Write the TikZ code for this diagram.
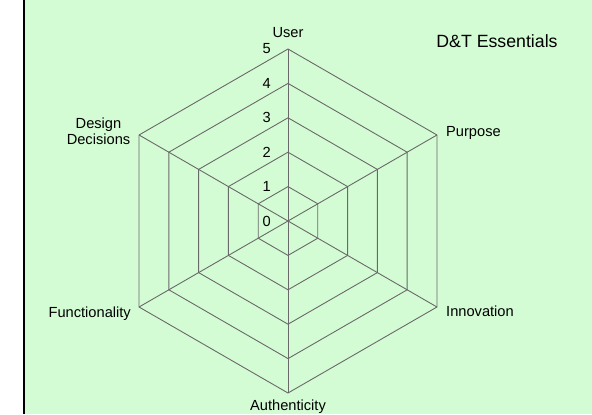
\documentclass[tikz,border=0pt]{standalone}
\usepackage{fontspec}
\setmainfont{Liberation Sans}
\usetikzlibrary{calc}
\definecolor{chartbg}{RGB}{212,252,212}
\definecolor{gridgray}{RGB}{105,105,105}
\begin{document}
\begin{tikzpicture}
        [x=1bp, y=1bp,
         label_style/.style={inner sep=0pt, font=\fontsize{14.7}{16.3}\selectfont},
         scale_style/.style={inner sep=0pt, anchor=east, font=\fontsize{14.7}{16.3}\selectfont},
         title_style/.style={inner sep=0pt, font=\fontsize{17.8}{20}\selectfont},
         grid_style/.style={draw=gridgray, line width=0.9bp}]
            \useasboundingbox (0,0) rectangle (592,414);
            \fill[chartbg] (24,0) rectangle (592,414);
            \fill[black] (22.8,0) rectangle (25,414);
            % hexagon corners
            \coordinate (c0) at (288,193);
            \foreach \k/\ang in {1/90, 2/30, 3/-30, 4/-90, 5/-150, 6/150}
                \coordinate (a\k) at ($(c0)+(\ang:172)$);
            % rings
            \foreach \r in {1,...,5}
                \draw[grid_style] ($(c0)+(90:34.4*\r)$)
                    \foreach \ang in {30,-30,-90,-150,150} { -- ($(c0)+(\ang:34.4*\r)$) } -- cycle;
            % spokes
            \foreach \k in {1,...,6}
                \draw[grid_style] (c0) -- (a\k);
            % scale numbers
            \foreach \r in {0,...,5}
                \node[scale_style] (s\r) at (271, 193+34.4*\r) {\r};
            \node[label_style, anchor=base] (user) at (288, 377) {User};
            \node[label_style, anchor=base west] (purpose) at (446, 277.7) {Purpose};
            \node[label_style, anchor=base west] (innovation) at (446, 97.7) {Innovation};
            \node[label_style, anchor=base] (authenticity) at (288, 3.6) {Authenticity};
            \node[label_style, anchor=base east] (functionality) at (131, 97) {Functionality};
            \node[label_style, align=center] (design) at (98.5, 283) {Design\\Decisions};
            \node[title_style, anchor=base] (title) at (497, 367) {D\&T Essentials};
        \end{tikzpicture}
\end{document}
